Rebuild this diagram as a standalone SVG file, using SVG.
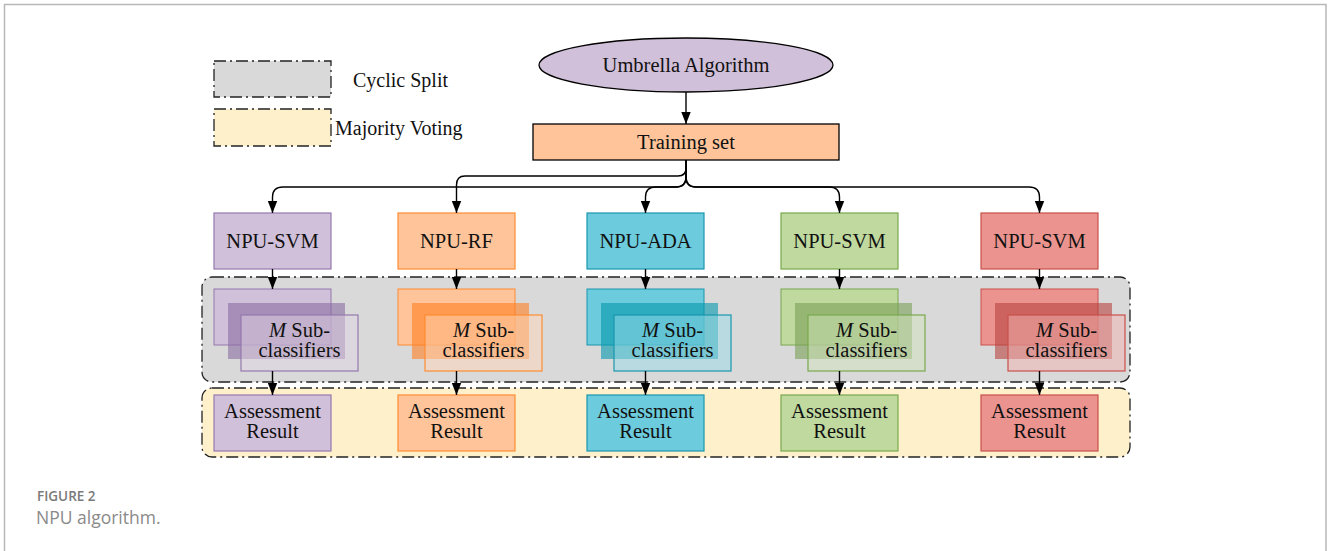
<svg xmlns="http://www.w3.org/2000/svg" width="1328" height="551" viewBox="0 0 1328 551">
<style>
.t{font-family:"Liberation Serif","Times New Roman",serif;font-size:20.5px;fill:#111;text-anchor:middle}
.lg{font-family:"Liberation Serif","Times New Roman",serif;font-size:20px;fill:#111}
.dd{stroke:#222;stroke-width:1.3;stroke-dasharray:12 4 2 4;fill:none}
.c{fill:none;stroke:#000;stroke-width:1.4}
.pu{fill:#d1c0d9;stroke:#9479ad}
.or{fill:#ffc49a;stroke:#ff8c32}
.cy{fill:#6ccbdc;stroke:#1a97ad}
.gr{fill:#bfd99f;stroke:#79a84e}
.re{fill:#eb938f;stroke:#c9504b}
.n{stroke-width:1.2}
.mid{stroke:none;fill-opacity:0.6}
.front{stroke-width:1.2;fill-opacity:0.5}
</style>
<defs>
<marker id="ah" markerUnits="userSpaceOnUse" markerWidth="12" markerHeight="16" refX="14" refY="5.5" orient="auto" viewBox="0 0 14 11">
<path d="M0,0 L14,5.5 L0,11 z" fill="#000"/>
</marker>
</defs>
<rect width="1328" height="551" fill="#fff"/>
<path d="M4.5,551 V4.5 H1326 V551" fill="none" stroke="#b8b8b8" stroke-width="1.5"/>

<g id="legend">
<rect x="214" y="61" width="117" height="36" fill="#d9d9d9"/>
<rect x="214" y="61" width="117" height="36" class="dd"/>
<text x="353" y="87" class="lg">Cyclic Split</text>
<rect x="214" y="109" width="117" height="37" fill="#fff0cc"/>
<rect x="214" y="109" width="117" height="37" class="dd"/>
<text x="335" y="135" class="lg">Majority Voting</text>
</g>

<g id="cyclic-split-group">
<rect x="202" y="277" width="928" height="105" rx="10" fill="#d9d9d9"/>
<rect x="202" y="277" width="928" height="105" rx="10" class="dd"/>
</g>
<g id="majority-voting-group">
<rect x="202" y="388" width="928" height="69" rx="10" fill="#fff0cc"/>
<rect x="202" y="388" width="928" height="69" rx="10" class="dd"/>
</g>

<g id="umbrella">
<ellipse cx="686" cy="65" rx="147" ry="27" fill="#d1c0d9" stroke="#000" stroke-width="1.3"/>
<text x="686" y="72" class="t">Umbrella Algorithm</text>
</g>
<g id="training">
<rect x="533" y="124" width="306" height="36" fill="#ffc49a" stroke="#000" stroke-width="1.3"/>
<text x="686" y="149" class="t">Training set</text>
</g>

<!-- column 1 purple -->
<g id="npu-svm-1"><rect x="214" y="213" width="117" height="56" class="pu n"/><text x="272.5" y="248" class="t">NPU-SVM</text></g>
<g id="sub-1">
<rect x="214" y="289" width="117" height="56" class="pu" stroke="none"/>
<rect x="228" y="303" width="117" height="56" class="pu mid" style="fill:#8a6ca3"/>
<rect x="241" y="315" width="117" height="56" class="pu front" style="fill:#dfd3e4"/>
<text x="299.5" y="337" class="t"><tspan font-style="italic">M</tspan> Sub-</text>
<text x="299.5" y="357" class="t">classifiers</text>
</g>
<g id="result-1"><rect x="214" y="395" width="117" height="56" class="pu n"/><text x="272.5" y="418" class="t">Assessment</text><text x="272.5" y="438" class="t">Result</text></g>

<!-- column 2 orange -->
<g id="npu-rf"><rect x="398" y="213" width="117" height="56" class="or n"/><text x="456.5" y="248" class="t">NPU-RF</text></g>
<g id="sub-2">
<rect x="398" y="289" width="117" height="56" class="or" stroke="none"/>
<rect x="412" y="303" width="117" height="56" class="or mid" style="fill:#ff7f1f"/>
<rect x="425" y="315" width="117" height="56" class="or front" style="fill:#ffd6b8"/>
<text x="483.5" y="337" class="t"><tspan font-style="italic">M</tspan> Sub-</text>
<text x="483.5" y="357" class="t">classifiers</text>
</g>
<g id="result-2"><rect x="398" y="395" width="117" height="56" class="or n"/><text x="456.5" y="418" class="t">Assessment</text><text x="456.5" y="438" class="t">Result</text></g>

<!-- column 3 cyan -->
<g id="npu-ada"><rect x="587" y="213" width="117" height="56" class="cy n"/><text x="645.5" y="248" class="t">NPU-ADA</text></g>
<g id="sub-3">
<rect x="587" y="289" width="117" height="56" class="cy" stroke="none"/>
<rect x="601" y="303" width="117" height="56" class="cy mid" style="fill:#0497ad"/>
<rect x="614" y="315" width="117" height="56" class="cy front" style="fill:#98dbe7"/>
<text x="672.5" y="337" class="t"><tspan font-style="italic">M</tspan> Sub-</text>
<text x="672.5" y="357" class="t">classifiers</text>
</g>
<g id="result-3"><rect x="587" y="395" width="117" height="56" class="cy n"/><text x="645.5" y="418" class="t">Assessment</text><text x="645.5" y="438" class="t">Result</text></g>

<!-- column 4 green -->
<g id="npu-svm-2"><rect x="781" y="213" width="117" height="56" class="gr n"/><text x="839.5" y="248" class="t">NPU-SVM</text></g>
<g id="sub-4">
<rect x="781" y="289" width="117" height="56" class="gr" stroke="none"/>
<rect x="795" y="303" width="117" height="56" class="gr mid" style="fill:#79a057"/>
<rect x="808" y="315" width="117" height="56" class="gr front" style="fill:#d2e4bc"/>
<text x="866.5" y="337" class="t"><tspan font-style="italic">M</tspan> Sub-</text>
<text x="866.5" y="357" class="t">classifiers</text>
</g>
<g id="result-4"><rect x="781" y="395" width="117" height="56" class="gr n"/><text x="839.5" y="418" class="t">Assessment</text><text x="839.5" y="438" class="t">Result</text></g>

<!-- column 5 red -->
<g id="npu-svm-3"><rect x="981" y="213" width="117" height="56" class="re n"/><text x="1039.5" y="248" class="t">NPU-SVM</text></g>
<g id="sub-5">
<rect x="981" y="289" width="117" height="56" class="re" stroke="none"/>
<rect x="995" y="303" width="117" height="56" class="re mid" style="fill:#b8423e"/>
<rect x="1008" y="315" width="117" height="56" class="re front" style="fill:#f1b4b1"/>
<text x="1066.5" y="337" class="t"><tspan font-style="italic">M</tspan> Sub-</text>
<text x="1066.5" y="357" class="t">classifiers</text>
</g>
<g id="result-5"><rect x="981" y="395" width="117" height="56" class="re n"/><text x="1039.5" y="418" class="t">Assessment</text><text x="1039.5" y="438" class="t">Result</text></g>

<g id="connectors">
<path class="c" d="M686,92 V124" marker-end="url(#ah)"/>
<path class="c" d="M686,160 V168 Q686,176 678,176 H465 Q456.5,176 456.5,185 V213" marker-end="url(#ah)"/>
<path class="c" d="M686,160 V177 Q686,187 676,187 H283 Q272.5,187 272.5,197 V213" marker-end="url(#ah)"/>
<path class="c" d="M686,160 V177 Q686,187 676,187 H656 Q645.5,187 645.5,197 V213" marker-end="url(#ah)"/>
<path class="c" d="M686,160 V177 Q686,187 696,187 H829 Q839.5,187 839.5,197 V213" marker-end="url(#ah)"/>
<path class="c" d="M686,160 V177 Q686,187 696,187 H1029 Q1039.5,187 1039.5,197 V213" marker-end="url(#ah)"/>
<path class="c" d="M272.5,269 V289" marker-end="url(#ah)"/>
<path class="c" d="M456.5,269 V289" marker-end="url(#ah)"/>
<path class="c" d="M645.5,269 V289" marker-end="url(#ah)"/>
<path class="c" d="M839.5,269 V289" marker-end="url(#ah)"/>
<path class="c" d="M1039.5,269 V289" marker-end="url(#ah)"/>
<path class="c" d="M272.5,371 V395" marker-end="url(#ah)"/>
<path class="c" d="M456.5,371 V395" marker-end="url(#ah)"/>
<path class="c" d="M645.5,371 V395" marker-end="url(#ah)"/>
<path class="c" d="M839.5,371 V395" marker-end="url(#ah)"/>
<path class="c" d="M1039.5,371 V395" marker-end="url(#ah)"/>
</g>

<g id="caption">
<text x="37" y="500.5" font-family="'Open Sans','Noto Sans',sans-serif" font-size="13.5" font-weight="600" fill="#7a7a7a">FIGURE 2</text>
<text x="36" y="524" font-family="'Open Sans','Noto Sans',sans-serif" font-size="17.5" fill="#8a8a8a">NPU algorithm.</text>
</g>
</svg>
